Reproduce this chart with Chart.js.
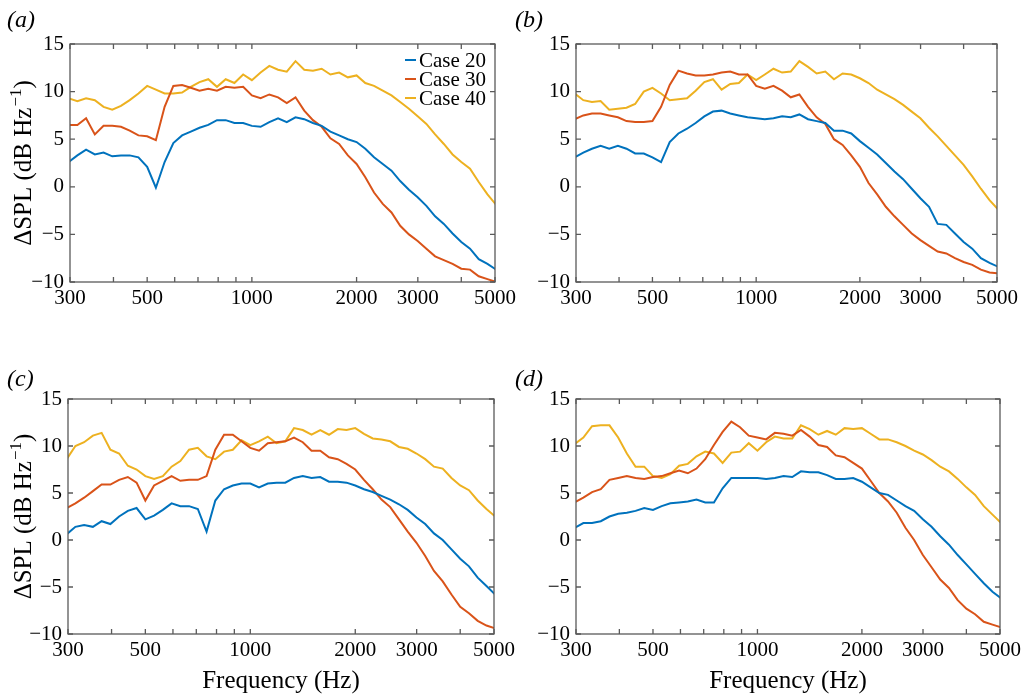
<!DOCTYPE html>
<html>
<head>
<meta charset="utf-8">
<script src="https://cdn.jsdelivr.net/npm/chart.js@4/dist/chart.umd.min.js"></script>
<style>
    html, body { margin: 0; padding: 0; background: #fff; }
    #wrap { position: relative; width: 1026px; height: 696px; }
    #wrap canvas { position: absolute; left: 0; top: 0; }
</style>
</head>
<body>
<div id="wrap">
    <canvas id="pa" width="1026" height="696"></canvas>
    <canvas id="pb" width="1026" height="696"></canvas>
    <canvas id="pc" width="1026" height="696"></canvas>
    <canvas id="pd" width="1026" height="696"></canvas>
</div>
<script>
// 1/12-octave band centres (Hz)
var freq = [297.3, 315.0, 333.7, 353.6, 374.6, 396.9, 420.4, 445.4, 471.9, 500.0,
    529.7, 561.2, 594.6, 630.0, 667.4, 707.1, 749.2, 793.7, 840.9, 890.9,
    943.9, 1000, 1059.5, 1122.5, 1189.2, 1259.9, 1334.8, 1414.2, 1498.3, 1587.4,
    1681.8, 1781.8, 1887.7, 2000, 2118.9, 2244.9, 2378.4, 2519.8, 2669.6, 2828.4,
    2996.6, 3174.8, 3363.6, 3563.6, 3775.6, 4000, 4237.9, 4489.8, 4756.8, 5039.7];

var caseNames = ['Case 20', 'Case 30', 'Case 40'];
var caseColors = ['#0072BD', '#D95319', '#EDB120'];

var xTicks = [300, 400, 500, 600, 700, 800, 900, 1000, 2000, 3000, 4000, 5000];
var xLabels = [300, 500, 1000, 2000, 3000, 5000];
var yTicks = [-10, -5, 0, 5, 10, 15];

// (a)
var a20 = [2.6, 3.3, 3.9, 3.4, 3.6, 3.2, 3.3, 3.3, 3.1, 2.1, -0.1, 2.6, 4.6, 5.4, 5.8, 6.2, 6.5, 7.0, 7.0, 6.7,
    6.7, 6.4, 6.3, 6.8, 7.2, 6.8, 7.3, 7.1, 6.7, 6.4, 5.8, 5.4, 5.0, 4.7, 4.0, 3.1, 2.4, 1.7, 0.6, -0.3,
    -1.1, -2.0, -3.1, -3.9, -4.9, -5.8, -6.5, -7.6, -8.1, -8.7];
var a30 = [6.5, 6.5, 7.2, 5.5, 6.4, 6.4, 6.3, 5.9, 5.4, 5.3, 4.9, 8.4, 10.6, 10.7, 10.4, 10.1, 10.3, 10.1, 10.5, 10.4,
    10.5, 9.6, 9.3, 9.7, 9.4, 8.8, 9.4, 8.0, 7.0, 6.3, 5.1, 4.5, 3.3, 2.4, 1.0, -0.6, -1.8, -2.7, -4.1, -5.0,
    -5.7, -6.5, -7.3, -7.7, -8.1, -8.6, -8.7, -9.4, -9.7, -10.0];
var a40 = [9.3, 9.0, 9.3, 9.1, 8.4, 8.1, 8.5, 9.1, 9.8, 10.6, 10.2, 9.8, 9.8, 9.9, 10.5, 11.0, 11.3, 10.5, 11.3, 10.9,
    11.8, 11.2, 12.0, 12.7, 12.3, 12.1, 13.2, 12.3, 12.2, 12.4, 11.8, 12.0, 11.5, 11.7, 10.9, 10.6, 10.1, 9.6, 8.9, 8.2,
    7.4, 6.6, 5.5, 4.5, 3.4, 2.6, 1.9, 0.5, -0.8, -1.9];
// (b)
var b20 = [3.1, 3.6, 4.0, 4.3, 4.0, 4.3, 4.0, 3.5, 3.5, 3.1, 2.6, 4.7, 5.6, 6.1, 6.7, 7.4, 7.9, 8.0, 7.7, 7.5,
    7.3, 7.2, 7.1, 7.2, 7.4, 7.3, 7.6, 7.1, 6.9, 6.7, 5.9, 5.9, 5.6, 4.8, 4.1, 3.4, 2.5, 1.6, 0.8, -0.2,
    -1.2, -2.1, -3.9, -4.0, -4.9, -5.8, -6.5, -7.5, -8.0, -8.4];
var b30 = [7.1, 7.5, 7.7, 7.7, 7.5, 7.3, 6.9, 6.8, 6.8, 6.9, 8.4, 10.7, 12.2, 11.9, 11.7, 11.7, 11.8, 12.0, 12.1, 11.8,
    11.8, 10.6, 10.3, 10.6, 10.1, 9.4, 9.7, 8.4, 7.3, 6.6, 5.0, 4.4, 3.3, 2.1, 0.4, -0.8, -2.1, -3.1, -4.0, -4.9,
    -5.6, -6.2, -6.8, -7.0, -7.5, -7.9, -8.2, -8.7, -9.0, -9.1];
var b40 = [9.8, 9.1, 8.9, 9.0, 8.1, 8.2, 8.3, 8.7, 10.0, 10.4, 9.8, 9.1, 9.2, 9.3, 10.1, 11.0, 11.3, 10.2, 10.8, 10.9,
    11.8, 11.2, 11.8, 12.4, 12.0, 12.1, 13.2, 12.6, 11.9, 12.1, 11.3, 11.9, 11.8, 11.4, 10.9, 10.2, 9.7, 9.2, 8.6, 7.9,
    7.2, 6.2, 5.3, 4.3, 3.3, 2.3, 1.1, -0.2, -1.4, -2.4];
// (c)
var c20 = [0.6, 1.4, 1.6, 1.4, 2.0, 1.7, 2.5, 3.1, 3.4, 2.2, 2.6, 3.2, 3.9, 3.6, 3.6, 3.3, 0.9, 4.2, 5.4, 5.8,
    6.0, 6.0, 5.6, 6.0, 6.1, 6.1, 6.6, 6.8, 6.6, 6.7, 6.2, 6.2, 6.1, 5.8, 5.4, 5.1, 4.7, 4.3, 3.8, 3.2,
    2.4, 1.7, 0.7, 0.0, -1.0, -2.0, -2.8, -4.0, -4.9, -5.8];
var c30 = [3.4, 3.9, 4.5, 5.2, 5.9, 5.9, 6.4, 6.7, 6.1, 4.2, 5.8, 6.3, 6.8, 6.3, 6.4, 6.4, 6.8, 9.6, 11.2, 11.2,
    10.5, 9.8, 9.5, 10.3, 10.4, 10.5, 10.9, 10.4, 9.5, 9.5, 8.8, 8.6, 8.1, 7.5, 6.4, 5.4, 4.3, 3.5, 2.2, 0.9,
    -0.3, -1.7, -3.3, -4.4, -5.8, -7.1, -7.8, -8.6, -9.1, -9.4];
var c40 = [8.6, 10.0, 10.4, 11.1, 11.4, 9.6, 9.2, 7.9, 7.5, 6.8, 6.5, 6.8, 7.8, 8.4, 9.6, 9.8, 8.9, 8.6, 9.4, 9.6,
    10.6, 10.1, 10.5, 11.0, 10.3, 10.5, 11.9, 11.7, 11.2, 11.7, 11.2, 11.8, 11.7, 11.9, 11.3, 10.8, 10.7, 10.5, 9.9, 9.7,
    9.2, 8.6, 7.8, 7.6, 6.6, 5.8, 5.3, 4.2, 3.3, 2.5];
// (d)
var d20 = [1.3, 1.8, 1.8, 2.0, 2.5, 2.8, 2.9, 3.1, 3.4, 3.2, 3.6, 3.9, 4.0, 4.1, 4.3, 4.0, 4.0, 5.5, 6.6, 6.6,
    6.6, 6.6, 6.5, 6.6, 6.8, 6.7, 7.3, 7.2, 7.2, 6.9, 6.5, 6.5, 6.6, 6.2, 5.6, 5.0, 4.8, 4.2, 3.6, 3.1,
    2.2, 1.4, 0.4, -0.5, -1.6, -2.6, -3.6, -4.6, -5.5, -6.2];
var d30 = [4.0, 4.5, 5.1, 5.4, 6.4, 6.6, 6.8, 6.6, 6.5, 6.7, 6.8, 7.1, 7.4, 7.1, 7.6, 8.6, 10.1, 11.5, 12.6, 12.0,
    11.1, 10.9, 10.7, 11.4, 11.3, 11.1, 11.7, 11.0, 10.1, 9.9, 9.0, 8.8, 8.2, 7.6, 6.3, 5.0, 4.1, 2.9, 1.3, 0.0,
    -1.6, -2.9, -4.2, -5.1, -6.4, -7.3, -7.9, -8.7, -9.0, -9.3];
var d40 = [10.2, 10.9, 12.1, 12.2, 12.2, 10.9, 9.2, 7.8, 7.8, 6.8, 6.6, 7.0, 7.9, 8.1, 8.9, 9.4, 9.2, 8.2, 9.3, 9.4,
    10.3, 9.5, 10.4, 11.0, 10.8, 10.8, 12.2, 11.8, 11.2, 11.6, 11.2, 11.9, 11.8, 11.9, 11.3, 10.7, 10.7, 10.4, 10.0, 9.5,
    9.1, 8.5, 7.8, 7.3, 6.5, 5.6, 4.8, 3.6, 2.7, 1.8];

Chart.defaults.font.family = '"Liberation Serif", "Times New Roman", serif';
Chart.defaults.color = '#000';

// y title with a real superscript: "ΔSPL (dB Hz" + "−1" + ")"
var drawYTitle = function (ctx, x, cy) {
    var big = '25px "Liberation Serif"', small = '17px "Liberation Serif"';
    var p1 = '\u0394SPL (dB Hz', p2 = '\u22121', p3 = ')';
    ctx.font = big;
    var w1 = ctx.measureText(p1).width, w3 = ctx.measureText(p3).width;
    ctx.font = small;
    var w2 = ctx.measureText(p2).width;
    var total = w1 + w2 + w3 + 1;
    ctx.save();
    ctx.translate(x, cy);
    ctx.rotate(-Math.PI / 2);
    ctx.textBaseline = 'alphabetic';
    var sx = -total / 2;
    ctx.font = big;
    ctx.fillText(p1, sx, 0);
    ctx.font = small;
    ctx.fillText(p2, sx + w1 + 1, -10);
    ctx.font = big;
    ctx.fillText(p3, sx + w1 + w2 + 1, 0);
    ctx.restore();
};

// box, inward ticks on all sides, panel letter, legend
var framePlugin = {
    id: 'frame',
    afterDraw: function (chart, args, opts) {
        var ctx = chart.ctx, a = chart.chartArea;
        var xs = chart.scales.x, ys = chart.scales.y;
        ctx.save();
        ctx.strokeStyle = '#5a5a5a';
        ctx.lineWidth = 1.3;
        ctx.strokeRect(a.left, a.top, a.right - a.left, a.bottom - a.top);
        ctx.beginPath();
        xTicks.forEach(function (v) {
            var px = xs.getPixelForValue(v);
            ctx.moveTo(px, a.bottom); ctx.lineTo(px, a.bottom - 5);
            ctx.moveTo(px, a.top); ctx.lineTo(px, a.top + 5);
        });
        yTicks.forEach(function (v) {
            var py = ys.getPixelForValue(v);
            ctx.moveTo(a.left, py); ctx.lineTo(a.left + 5, py);
            ctx.moveTo(a.right, py); ctx.lineTo(a.right - 5, py);
        });
        ctx.stroke();

        ctx.fillStyle = '#000';
        ctx.font = 'italic 24px "Liberation Serif"';
        ctx.textBaseline = 'alphabetic';
        ctx.fillText(opts.label, opts.lx, opts.ly);

        if (opts.yTitle) {
            drawYTitle(ctx, 31, (a.top + a.bottom) / 2);
        }

        if (opts.legend) {
            ctx.font = '21px "Liberation Serif"';
            chart.data.datasets.forEach(function (ds, i) {
                var y = 60 + i * 19;
                ctx.strokeStyle = ds.borderColor;
                ctx.lineWidth = 2;
                ctx.beginPath();
                ctx.moveTo(405, y); ctx.lineTo(416, y);
                ctx.stroke();
                ctx.fillText(ds.label, 419, y + 6.5);
            });
        }
        ctx.restore();
    }
};

var makePanel = function (p) {
    var datasets = p.series.map(function (vals, k) {
        return {
            label: caseNames[k],
            data: freq.map(function (f, i) { return {x: f, y: vals[i]}; }),
            borderColor: caseColors[k],
            borderWidth: 2,
            pointRadius: 0,
            tension: 0,
            fill: false
        };
    });

    return new Chart(document.getElementById(p.id), {
        type: 'line',
        data: {datasets: datasets},
        options: {
            responsive: false,
            animation: false,
            devicePixelRatio: 1,
            layout: {padding: {left: p.l - p.yw, right: 1026 - p.r, top: p.t, bottom: 696 - p.b - p.xh}},
            plugins: {
                legend: {display: false},
                tooltip: {enabled: false},
                frame: {label: p.label, lx: p.lx, ly: p.ly, legend: p.legend, yTitle: p.yTitle}
            },
            scales: {
                x: {
                    type: 'logarithmic',
                    min: 300,
                    max: 5000,
                    afterBuildTicks: function (s) { s.ticks = xTicks.map(function (v) { return {value: v}; }); },
                    afterFit: function (s) { s.height = p.xh; },
                    grid: {display: false, drawTicks: false},
                    border: {display: false},
                    ticks: {
                        autoSkip: false, maxRotation: 0, padding: 4,
                        font: {size: 21},
                        callback: function (v) { return xLabels.indexOf(v) >= 0 ? String(v) : ''; }
                    },
                    title: {display: p.xTitle, text: 'Frequency (Hz)', font: {size: 25}, padding: {top: 0, bottom: 0}}
                },
                y: {
                    min: -10,
                    max: 15,
                    afterBuildTicks: function (s) { s.ticks = yTicks.map(function (v) { return {value: v}; }); },
                    afterFit: function (s) { s.width = p.yw; },
                    grid: {display: false, drawTicks: false},
                    border: {display: false},
                    ticks: {
                        padding: 6,
                        font: {size: 21},
                        callback: function (v) { return v < 0 ? '\u2212' + Math.abs(v) : String(v); }
                    }
                }
            }
        },
        plugins: [framePlugin]
    });
};

makePanel({id: 'pa', series: [a20, a30, a40], label: '(a)', lx: 7, ly: 27, legend: true,
    l: 70, r: 495, t: 44, b: 282, yw: 70, xh: 40, xTitle: false, yTitle: true});
makePanel({id: 'pb', series: [b20, b30, b40], label: '(b)', lx: 515, ly: 27, legend: false,
    l: 576, r: 997, t: 44, b: 282, yw: 60, xh: 40, xTitle: false, yTitle: false});
makePanel({id: 'pc', series: [c20, c30, c40], label: '(c)', lx: 7, ly: 386, legend: false,
    l: 68, r: 494, t: 399, b: 634, yw: 68, xh: 62, xTitle: true, yTitle: true});
makePanel({id: 'pd', series: [d20, d30, d40], label: '(d)', lx: 515, ly: 386, legend: false,
    l: 576, r: 1000, t: 399, b: 634, yw: 60, xh: 62, xTitle: true, yTitle: false});
</script>
</body>
</html>
